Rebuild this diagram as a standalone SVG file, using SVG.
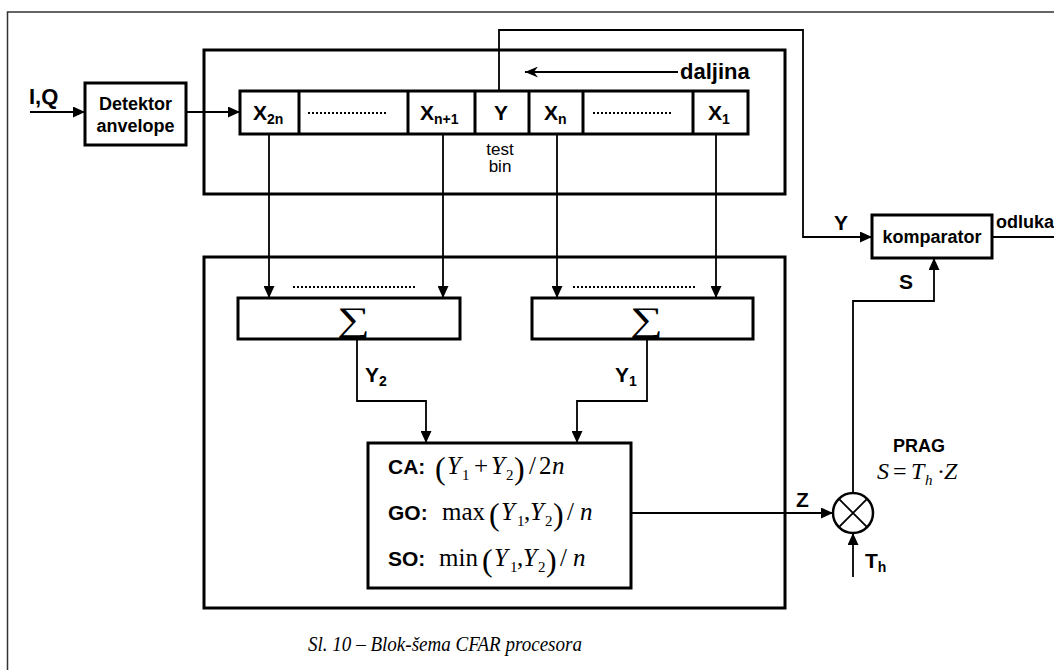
<svg xmlns="http://www.w3.org/2000/svg" width="1054" height="670" viewBox="0 0 1054 670">
<style>
.box{fill:#fff;stroke:#000;stroke-width:3}
.frame{fill:none;stroke:#000;stroke-width:3}
.ln{fill:none;stroke:#000;stroke-width:1.8}
.dots{fill:none;stroke:#000;stroke-width:2;stroke-dasharray:2 2}
.b{font-family:"Liberation Sans",Arial,sans-serif;font-weight:bold;fill:#000}
.r{font-family:"Liberation Sans",Arial,sans-serif;fill:#000}
.m{font-family:"Liberation Serif","Times New Roman",serif;fill:#000}
.i{font-style:italic}
</style>
<defs>
<marker id="arr" markerUnits="userSpaceOnUse" markerWidth="12" markerHeight="11" refX="12" refY="5.5" orient="auto">
<path d="M0,0 L12,5.5 L0,11 z" fill="#000"/>
</marker>
<marker id="arr2" markerUnits="userSpaceOnUse" markerWidth="13" markerHeight="11" refX="13" refY="5.5" orient="auto">
<path d="M0,0 L13,5.5 L0,11 L4,5.5 z" fill="#000"/>
</marker>
</defs>

<!-- outer frame -->
<path d="M7.5,670 L7.5,12 L1054,12" fill="none" stroke="#333" stroke-width="1.5"/>

<g id="topBlock">
<rect class="frame" x="204" y="50" width="581" height="144"/>
</g>
<g id="bottomBlock">
<rect class="frame" x="204" y="257" width="581" height="351"/>
</g>

<g id="connectors">
<line class="ln" x1="30" y1="112" x2="85" y2="112" marker-end="url(#arr)"/>
<line class="ln" x1="186" y1="112" x2="240" y2="112" marker-end="url(#arr)"/>
<line class="ln" x1="678" y1="72" x2="525" y2="72" marker-end="url(#arr2)"/>
<polyline class="ln" points="499,91 499,30 803,30 803,237 872,237" marker-end="url(#arr)"/>
<line class="ln" x1="992" y1="237" x2="1054" y2="237"/>
<line class="ln" x1="269" y1="134" x2="269" y2="298" marker-end="url(#arr)"/>
<line class="ln" x1="443" y1="134" x2="443" y2="298" marker-end="url(#arr)"/>
<line class="ln" x1="557" y1="134" x2="557" y2="298" marker-end="url(#arr)"/>
<line class="ln" x1="716" y1="134" x2="716" y2="298" marker-end="url(#arr)"/>
<line class="dots" x1="293" y1="287" x2="415" y2="287"/>
<line class="dots" x1="573" y1="287" x2="695" y2="287"/>
<polyline class="ln" points="357,339 357,401 426,401 426,443" marker-end="url(#arr)"/>
<polyline class="ln" points="647,339 647,401 577,401 577,443" marker-end="url(#arr)"/>
<line class="ln" x1="631" y1="513" x2="833" y2="513" marker-end="url(#arr)"/>
<polyline class="ln" points="853,493 853,301 934,301 934,258" marker-end="url(#arr)"/>
<line class="ln" x1="853" y1="577" x2="853" y2="533" marker-end="url(#arr)"/>
</g>

<g id="detektor">
<rect class="box" x="85" y="83" width="101" height="62"/>
<text class="b" x="135.5" y="110" font-size="18" text-anchor="middle">Detektor</text>
<text class="b" x="135.5" y="132" font-size="18" text-anchor="middle">anvelope</text>
</g>

<g id="register">
<rect class="box" x="240" y="91" width="508" height="43"/>
<line class="frame" x1="299" y1="91" x2="299" y2="134"/>
<line class="frame" x1="408" y1="91" x2="408" y2="134"/>
<line class="frame" x1="475" y1="91" x2="475" y2="134"/>
<line class="frame" x1="529" y1="91" x2="529" y2="134"/>
<line class="frame" x1="583" y1="91" x2="583" y2="134"/>
<line class="frame" x1="693" y1="91" x2="693" y2="134"/>
<line class="dots" x1="308" y1="113" x2="388" y2="113"/>
<line class="dots" x1="593" y1="113" x2="673" y2="113"/>
<text class="b" font-size="21" x="253" y="120">X<tspan font-size="14" dy="4">2n</tspan></text>
<text class="b" font-size="21" x="420" y="120">X<tspan font-size="14" dy="4">n+1</tspan></text>
<text class="b" font-size="21" x="501" y="120" text-anchor="middle">Y</text>
<text class="b" font-size="21" x="544" y="120">X<tspan font-size="14" dy="4">n</tspan></text>
<text class="b" font-size="21" x="708" y="120">X<tspan font-size="14" dy="4">1</tspan></text>
<text class="r" font-size="17" x="500" y="155" text-anchor="middle">test</text>
<text class="r" font-size="17" x="500" y="172" text-anchor="middle">bin</text>
</g>

<g id="labels">
<text class="b" font-size="22" x="29" y="104">I,Q</text>
<text class="b" font-size="22" x="680" y="79">daljina</text>
<text class="b" font-size="21" x="834" y="230">Y</text>
<text class="b" font-size="18" x="996" y="228">odluka</text>
<text class="b" font-size="21" x="899" y="289">S</text>
<text class="b" font-size="21" x="365" y="382">Y<tspan font-size="14" dy="4">2</tspan></text>
<text class="b" font-size="21" x="615" y="382">Y<tspan font-size="14" dy="4">1</tspan></text>
<text class="b" font-size="21" x="796" y="507">Z</text>
<text class="b" font-size="21" x="865" y="568">T<tspan font-size="14" dy="4">h</tspan></text>
<text class="b" font-size="18" x="919" y="452" text-anchor="middle">PRAG</text>
<text class="m" font-size="24"><tspan class="i" x="877" y="479">S</tspan><tspan x="893" y="479">=</tspan><tspan class="i" x="911" y="479">T</tspan><tspan class="i" font-size="15" x="925" y="485">h</tspan><tspan x="937" y="479">·</tspan><tspan class="i" x="944" y="479">Z</tspan></text>
</g>

<g id="komparator">
<rect class="box" x="872" y="215" width="120" height="43"/>
<text class="b" font-size="18" x="932" y="243" text-anchor="middle">komparator</text>
</g>

<g id="sum2">
<rect class="box" x="238" y="298" width="222" height="41"/>
<text class="m" font-size="34" transform="translate(353,331) scale(1.35,1)" text-anchor="middle">∑</text>
</g>
<g id="sum1">
<rect class="box" x="532" y="298" width="221" height="41"/>
<text class="m" font-size="34" transform="translate(646,331) scale(1.35,1)" text-anchor="middle">∑</text>
</g>

<g id="formula">
<rect class="box" x="368" y="443" width="263" height="145"/>
<text class="b" font-size="21" x="388" y="474">CA:</text>
<text class="m" font-size="25"><tspan font-size="32" x="435" y="479">(</tspan><tspan class="i" x="447" y="474">Y</tspan><tspan font-size="15" x="462" y="480">1</tspan><tspan x="474" y="474">+</tspan><tspan class="i" x="491" y="474">Y</tspan><tspan font-size="15" x="506" y="480">2</tspan><tspan font-size="32" x="514" y="479">)</tspan><tspan x="529" y="474">/</tspan><tspan x="539" y="474">2</tspan><tspan class="i" x="552" y="474">n</tspan></text>
<text class="b" font-size="21" x="388" y="520">GO:</text>
<text class="m" font-size="25"><tspan x="442" y="520">max</tspan><tspan font-size="32" x="489" y="525">(</tspan><tspan class="i" x="501" y="520">Y</tspan><tspan font-size="15" x="517" y="526">1</tspan><tspan x="524" y="520">,</tspan><tspan class="i" x="530" y="520">Y</tspan><tspan font-size="15" x="545" y="526">2</tspan><tspan font-size="32" x="553" y="525">)</tspan><tspan x="567" y="520">/</tspan><tspan class="i" x="580" y="520">n</tspan></text>
<text class="b" font-size="21" x="388" y="566">SO:</text>
<text class="m" font-size="25"><tspan x="439" y="566">min</tspan><tspan font-size="32" x="482" y="571">(</tspan><tspan class="i" x="494" y="566">Y</tspan><tspan font-size="15" x="510" y="572">1</tspan><tspan x="517" y="566">,</tspan><tspan class="i" x="523" y="566">Y</tspan><tspan font-size="15" x="538" y="572">2</tspan><tspan font-size="32" x="546" y="571">)</tspan><tspan x="560" y="566">/</tspan><tspan class="i" x="573" y="566">n</tspan></text>
</g>

<g id="multiplier">
<circle cx="853" cy="513" r="20" fill="#fff" stroke="#000" stroke-width="2.5"/>
<path d="M838.9,498.9 L867.1,527.1 M867.1,498.9 L838.9,527.1" stroke="#000" stroke-width="1.8"/>
</g>

<g id="caption">
<text class="m i" font-size="22" x="308" y="651" textLength="274" lengthAdjust="spacingAndGlyphs">Sl. 10 – Blok-šema CFAR procesora</text>
</g>
</svg>
